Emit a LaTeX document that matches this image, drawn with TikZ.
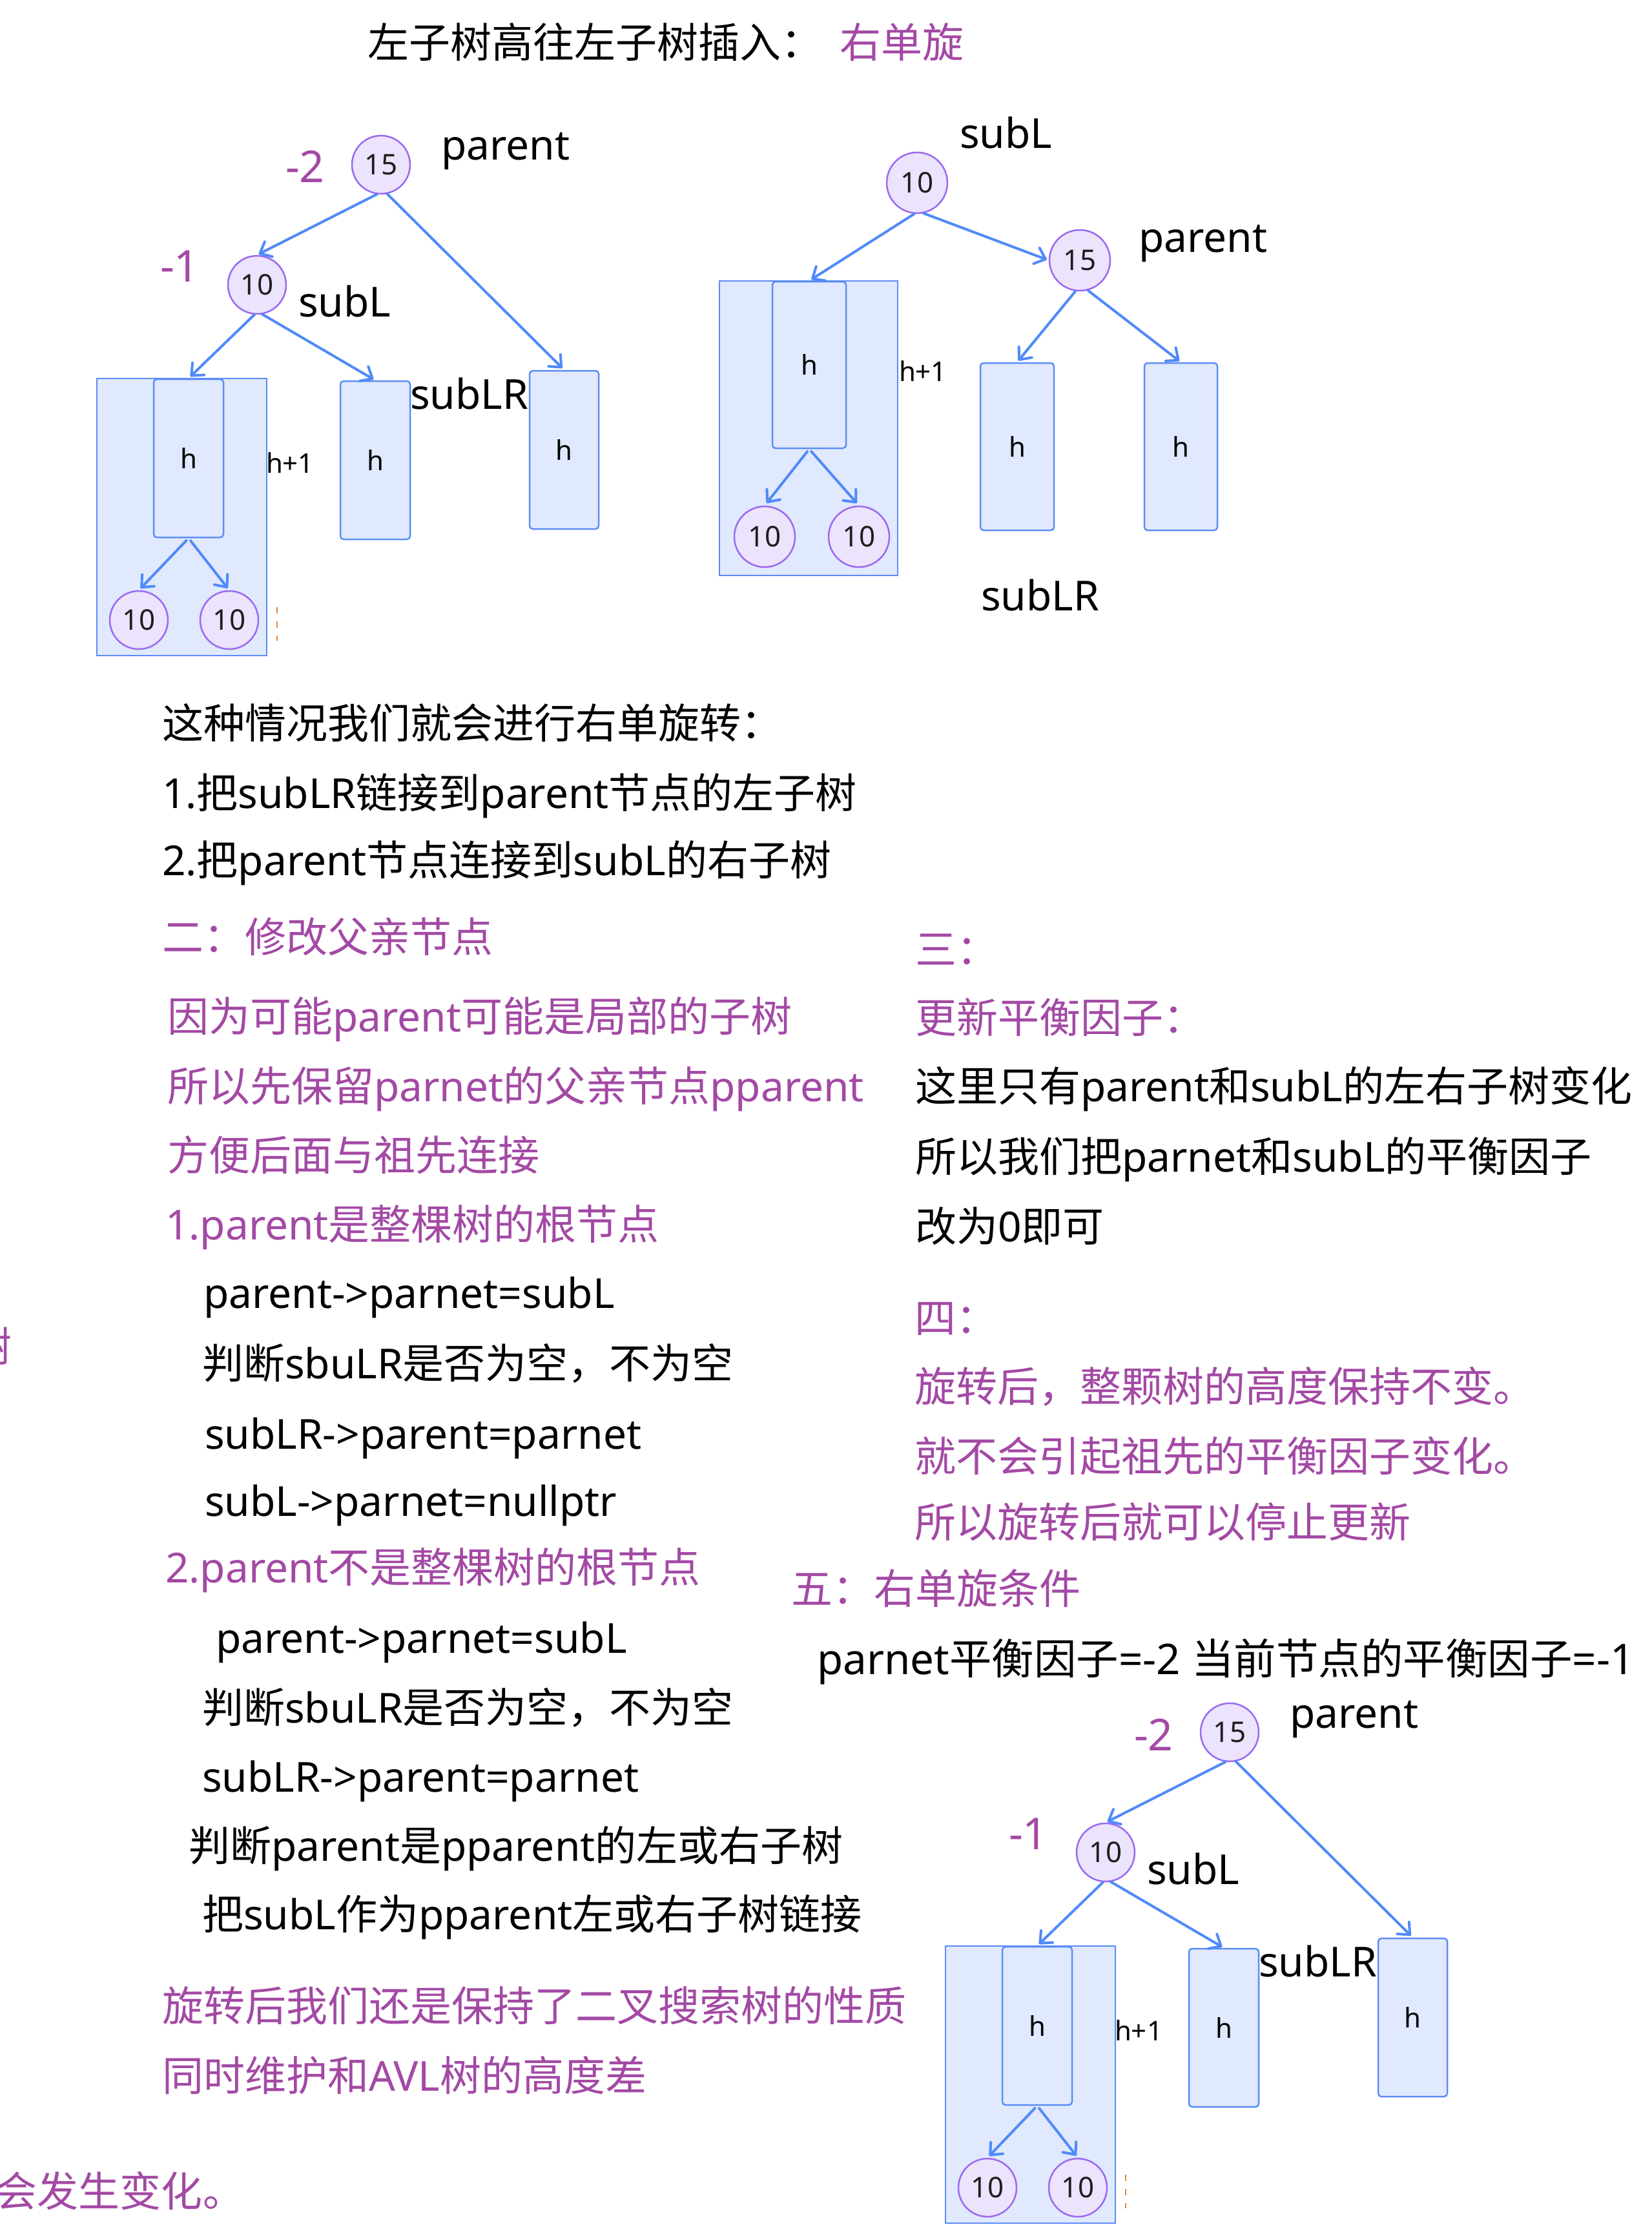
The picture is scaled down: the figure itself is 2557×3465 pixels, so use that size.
\documentclass[tikz,border=0pt]{standalone}
\usepackage{fontspec}
\setmainfont{Noto Sans}
\newfontfamily\cjkf{Noto Sans CJK SC}
\newfontfamily\latf{Noto Sans}
\usetikzlibrary{arrows.meta}
\XeTeXinterchartokenstate=1
\newXeTeXintercharclass\mycjk
\newcount\mycnt
\mycnt="4E00
\loop\XeTeXcharclass\mycnt=\mycjk\advance\mycnt by 1\ifnum\mycnt<"A000\repeat
\mycnt="3000
\loop\XeTeXcharclass\mycnt=\mycjk\advance\mycnt by 1\ifnum\mycnt<"3040\repeat
\mycnt="FF00
\loop\XeTeXcharclass\mycnt=\mycjk\advance\mycnt by 1\ifnum\mycnt<"FFF0\repeat
\mycnt=33
\loop\XeTeXcharclass\mycnt=0\advance\mycnt by 1\ifnum\mycnt<127\repeat
\XeTeXinterchartoks 0 \mycjk = {\cjkf}
\XeTeXinterchartoks 4095 \mycjk = {\cjkf}
\XeTeXinterchartoks \mycjk 0 = {\latf}
\XeTeXinterchartoks 4095 0 = {\latf}

\definecolor{purp}{RGB}{163,73,164}
\definecolor{circF}{RGB}{236,227,252}
\definecolor{circB}{RGB}{155,105,240}
\definecolor{boxF}{RGB}{224,233,253}
\definecolor{boxB}{RGB}{92,140,245}
\definecolor{arrC}{RGB}{80,138,250}
\definecolor{numC}{RGB}{30,30,30}
\definecolor{dotC}{RGB}{225,140,70}

\tikzset{
  txt/.style={anchor=base west, inner sep=0pt, outer sep=0pt, text=black, font=\fontsize{64}{76}\selectfont},
  pur/.style={txt, text=purp},
  bal/.style={anchor=base west, inner sep=0pt, outer sep=0pt, text=purp, font=\fontsize{68}{76}\selectfont},
  smalltxt/.style={anchor=base west, inner sep=0pt, outer sep=0pt, text=black, font=\fontsize{42}{48}\selectfont},
  circ/.style={circle, draw=circB, fill=circF, line width=2.5pt, minimum size=90pt, inner sep=0pt, text=numC, font=\fontsize{44}{50}\selectfont},
  circb/.style={circ, minimum size=94pt},
  hbox/.style={draw=boxB, fill=boxF, line width=2.5pt, rounded corners=5pt, inner sep=0pt, text=black, font=\fontsize{42}{48}\selectfont},
  bigbox/.style={draw=boxB, fill=boxF, line width=2.5pt, inner sep=0pt},
  arr/.style={draw=arrC, line width=4pt, line cap=round, -{Straight Barb[length=15pt,width=26pt,round]}},
  dotmark/.style={draw=dotC, line width=1.5pt, dash pattern=on 10pt off 12pt}
}

\newcommand\treeone[1]{%
  \node[bigbox, minimum width=263pt, minimum height=429pt] (#1big) at (281.5,800.5) {};
  \node[hbox, minimum width=108pt, minimum height=245pt] (#1in) at (292,709.5) {h};
  \node[hbox, minimum width=108pt, minimum height=245pt] (#1m) at (581,712.5) {h};
  \node[hbox, minimum width=107pt, minimum height=245pt] (#1r) at (873.5,696.5) {h};
  \node[circ] (#1p) at (590,255) {15};
  \node[circ] (#1l) at (398,441) {10};
  \node[circ] (#1a) at (215,960) {10};
  \node[circ] (#1b) at (355,960) {10};
  \draw[arr, shorten >=3pt] (#1p.262) -- (#1l.north);
  \draw[arr, shorten >=4pt] (#1p.282) -- (#1r.north);
  \draw[arr, shorten >=4pt] (#1l.265) -- (#1in.north);
  \draw[arr, shorten >=3pt] (#1l.280) -- (#1m.north);
  \draw[arr, shorten <=5pt, shorten >=4pt] (#1in.south) -- (#1a.north);
  \draw[arr, shorten <=5pt, shorten >=4pt] (#1in.south) -- (#1b.north);
  \node[bal] (#1bp) at (442,283) {-2};
  \node[txt] (#1np) at (683,248) {parent};
  \node[bal] (#1bl) at (248,436) {-1};
  \node[txt] (#1nl) at (462,490) {subL};
  \node[txt] (#1nlr) at (635,633) {subLR};
  \node[smalltxt] (#1nh) at (412,732) {h+1};
  \coordinate (#1ma) at (429,940);
  \coordinate (#1mb) at (429,992);
  \draw[dotmark] (#1ma) -- (#1mb);
}

\begin{document}
\begin{tikzpicture}[x=1pt,y=-1pt]
\fill[white] (0,0) rectangle (2557,3465);
\useasboundingbox (0,0) rectangle (2557,3465);

% title
\node[txt] (title) at (569,90) {左子树高往左子树插入：};
\node[pur] (titleb) at (1300,90) {右单旋};

% tree 1
\treeone{ta}

% tree 2
\node[bigbox, minimum width=276pt, minimum height=456pt] (tbbig) at (1252,663) {};
\node[hbox, minimum width=114pt, minimum height=258pt] (tbin) at (1253,565) {h};
\node[hbox, minimum width=114pt, minimum height=259pt] (tbm) at (1575,691.5) {h};
\node[hbox, minimum width=113pt, minimum height=259pt] (tbr) at (1828.5,691.5) {h};
\node[circb] (tbl) at (1420,283) {10};
\node[circb] (tbp) at (1672,403) {15};
\node[circb] (tba) at (1184,831) {10};
\node[circb] (tbb) at (1330,831) {10};
\draw[arr, shorten >=4pt] (tbl.265) -- (tbin.north);
\draw[arr, shorten >=3pt] (tbl.282) -- (tbp.west);
\draw[arr, shorten >=3pt] (tbp.262) -- (tbm.north);
\draw[arr, shorten >=3pt] (tbp.285) -- (tbr.north);
\draw[arr, shorten <=5pt, shorten >=5pt] (tbin.south) -- (tba.north);
\draw[arr, shorten <=5pt, shorten >=5pt] (tbin.south) -- (tbb.north);
\node[txt] (tbnl) at (1486,230) {subL};
\node[txt] (tbnp) at (1763,390) {parent};
\node[smalltxt] (tbnh) at (1392,590) {h+1};
\node[txt] (tbnlr) at (1519,945) {subLR};

% left column text
\node[txt] (l1) at (251,1143) {这种情况我们就会进行右单旋转：};
\node[txt] (l2) at (251,1251) {1.把subLR链接到parent节点的左子树};
\node[txt] (l3) at (251,1355) {2.把parent节点连接到subL的右子树};
\node[pur] (l4) at (251,1474) {二：修改父亲节点};
\node[pur] (l5) at (259,1597) {因为可能parent可能是局部的子树};
\node[pur] (l6) at (259,1705) {所以先保留parnet的父亲节点pparent};
\node[pur] (l7) at (259,1812) {方便后面与祖先连接};
\node[pur] (l8) at (256,1919) {1.parent是整棵树的根节点};
\node[txt] (l9) at (315,2025) {parent->parnet=subL};
\node[txt] (l10) at (313,2134) {判断sbuLR是否为空，不为空};
\node[txt] (l11) at (317,2243) {subLR->parent=parnet};
\node[txt] (l12) at (317,2347) {subL->parnet=nullptr};
\node[pur] (l13) at (256,2450) {2.parent不是整棵树的根节点};
\node[txt] (l14) at (334,2559) {parent->parnet=subL};
\node[txt] (l15) at (313,2667) {判断sbuLR是否为空，不为空};
\node[txt] (l16) at (313,2774) {subLR->parent=parnet};
\node[txt] (l17) at (292,2881) {判断parent是pparent的左或右子树};
\node[txt] (l18) at (313,2987) {把subL作为pparent左或右子树链接};
\node[pur] (l19) at (251,3129) {旋转后我们还是保持了二叉搜索树的性质};
\node[pur] (l20) at (251,3237) {同时维护和AVL树的高度差};
\node[pur] (l21) at (-6,3416) {会发生变化。};
\node[pur] (l22) at (-45,2108) {树};

% right column text
\node[pur] (r1) at (1417,1493) {三：};
\node[pur] (r2) at (1417,1599) {更新平衡因子：};
\node[txt] (r3) at (1417,1705) {这里只有parent和subL的左右子树变化};
\node[txt] (r4) at (1417,1814) {所以我们把parnet和subL的平衡因子};
\node[txt] (r5) at (1417,1922) {改为0即可};
\node[pur] (r6) at (1416,2064) {四：};
\node[pur] (r7) at (1416,2170) {旋转后，整颗树的高度保持不变。};
\node[pur] (r8) at (1416,2278) {就不会引起祖先的平衡因子变化。};
\node[pur] (r9) at (1416,2380) {所以旋转后就可以停止更新};
\node[pur] (r10) at (1225,2483) {五：右单旋条件};
\node[txt, font=\fontsize{65.5}{76}\selectfont] (r11) at (1265,2592) {parnet平衡因子=-2 当前节点的平衡因子=-1};

% tree 3
\begin{scope}[shift={(1314,2427)}]
\treeone{tc}
\end{scope}
\end{tikzpicture}
\end{document}
